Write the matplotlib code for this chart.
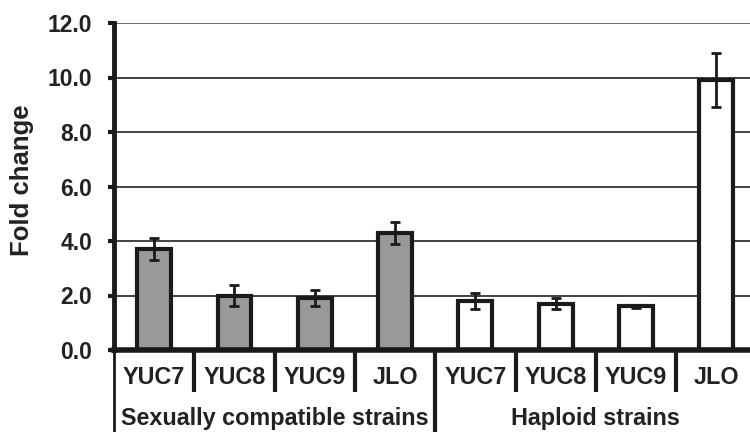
import matplotlib
matplotlib.use('Agg')
import matplotlib.pyplot as plt
import numpy as np

# data
genes = ['YUC7', 'YUC8', 'YUC9', 'JLO']
groups = ['Sexually compatible strains', 'Haploid strains']
compatible = [3.7, 2.0, 1.9, 4.3]
compatible_err = [0.4, 0.4, 0.3, 0.4]
haploid = [1.8, 1.7, 1.6, 9.9]
haploid_err = [0.3, 0.2, 0.06, 1.0]
yticks = [0, 2, 4, 6, 8, 10, 12]

plt.rcParams['font.family'] = ['Liberation Sans', 'DejaVu Sans']
plt.rcParams['font.weight'] = 'bold'
ink = '#1a1a1a'
txt = '#222222'

fig = plt.figure(figsize=(7.5, 4.32), dpi=100)
W, H = 750, 432
x0, y0, y1 = 114, 350, 23
ax = fig.add_axes([x0 / W, (H - y0) / H, (W - x0) / W, (y0 - y1) / H])

n = len(genes)
x_comp = np.arange(n)
x_hap = np.arange(n) + n

# grid lines
for t in yticks[1:]:
    ax.axhline(t, color='#555555' if t == yticks[-1] else '#222222', lw=1.2, zorder=0)

bar_kw = dict(width=0.42, edgecolor=ink, linewidth=3, zorder=2)
err_kw = dict(ecolor=ink, elinewidth=2, capsize=3.5, capthick=2, zorder=3)
ax.bar(x_comp, compatible, color='#999999', **bar_kw)
ax.errorbar(x_comp, compatible, yerr=compatible_err, fmt='none', **err_kw)
ax.bar(x_hap, haploid, color='white', **bar_kw)
ax.errorbar(x_hap, haploid, yerr=haploid_err, fmt='none', **err_kw)

cat_w = 80.3
ax.set_xlim(-0.5, -0.5 + (W - x0) / cat_w)
ax.set_ylim(0, 12)
ax.set_yticks(yticks)
ax.set_yticklabels(['%.1f' % t for t in yticks])
ax.tick_params(axis='y', direction='out', length=4.5, width=3, color=ink,
               labelsize=16.5, labelcolor=txt, pad=11)
ax.set_xticks([])

for s in ['top', 'right']:
    ax.spines[s].set_visible(False)
ax.spines['left'].set_linewidth(3.5)
ax.spines['left'].set_color(ink)
ax.spines['bottom'].set_linewidth(4)
ax.spines['bottom'].set_color(ink)

ax.set_ylabel('Fold change', fontsize=18.5, fontweight='bold', color=txt)
ax.yaxis.set_label_coords(-0.125, 0.52)

# multi-level category axis
trans = ax.get_xaxis_transform()
frac = lambda py: (y0 - py) / (y0 - y1)
all_x = np.concatenate([x_comp, x_hap])
labels = genes + genes
for xi, lab in zip(all_x, labels):
    ax.text(xi, frac(378), lab, transform=trans, ha='center', va='center',
            fontsize=16.8, color=txt)
for k in range(1, 2 * n):
    if k % n == 0:
        continue
    ax.plot([k - 0.5, k - 0.5], [0, frac(392)], transform=trans, color=ink,
            lw=3, clip_on=False, solid_capstyle='butt')
for g in range(len(groups)):
    xb = g * n - 0.5
    ax.plot([xb, xb], [0, frac(H + 5)], transform=trans, color=ink,
            lw=2 if g == 0 else 3, clip_on=False, solid_capstyle='butt')
    ax.text(g * n + (n - 1) / 2, frac(418), groups[g], transform=trans,
            ha='center', va='center', fontsize=16.8, color=txt)

fig.savefig('out.png', dpi=100, facecolor='white')
